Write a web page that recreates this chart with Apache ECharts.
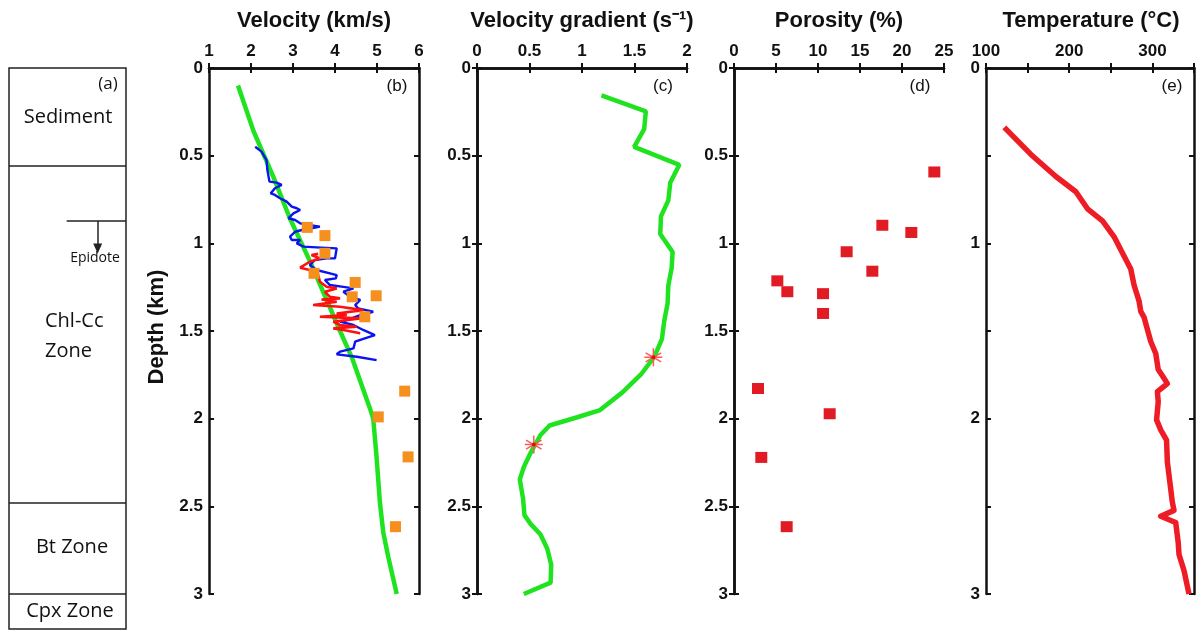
<!DOCTYPE html>
<html><head><meta charset="utf-8">
<script src="https://cdn.jsdelivr.net/npm/echarts@6/dist/echarts.min.js"></script>
<style>html,body{margin:0;padding:0;background:#fff}#c{width:1197px;height:630px}</style>
</head><body><div id="c"></div>
<script>
// ---------- Panel (a): zones ----------
const zoneBoundaries = [0.564, 2.482, 3.0];
const epidoteDepth = 0.873;
const epidoteArrowTip = 1.03;

// ---------- Panel (b): velocity ----------
const modelDepth = [0.10, 0.36, 0.62, 0.86, 1.10, 1.30, 1.50, 1.65, 1.94, 2.00, 2.22, 2.48, 2.65, 2.79, 3.00];
const modelVel   = [1.69, 2.06, 2.53, 2.93, 3.40, 3.76, 4.12, 4.40, 4.83, 4.91, 4.99, 5.07, 5.15, 5.27, 5.47];

const blueVel   = [2.10,2.25,2.37,2.39,2.44,2.61,2.73,2.57,2.47,2.57,2.69,2.85,2.97,3.09,3.17,3.01,2.89,3.05,3.17,3.40,3.64,3.44,3.21,3.05,2.93,2.97,3.17,3.09,3.25,3.56,4.04,4.02,4.00,3.80,3.52,3.40,3.56,3.88,4.04,4.02,3.76,3.88,4.20,4.44,4.20,4.36,4.60,4.48,4.55,4.91,4.60,4.28,4.12,4.44,4.67,4.95,4.71,4.48,4.44,4.12,4.04,4.52,4.99];
const blueDepth = [0.449,0.477,0.525,0.582,0.648,0.654,0.667,0.686,0.715,0.724,0.743,0.762,0.791,0.800,0.810,0.829,0.857,0.867,0.886,0.896,0.905,0.915,0.924,0.934,0.962,0.981,0.981,1.000,1.019,1.023,1.029,1.057,1.086,1.086,1.095,1.124,1.152,1.171,1.181,1.200,1.209,1.238,1.248,1.257,1.276,1.305,1.323,1.352,1.371,1.390,1.409,1.438,1.447,1.466,1.494,1.523,1.542,1.561,1.599,1.618,1.633,1.647,1.666];

const redVel   = [3.60,3.44,3.64,3.40,3.17,3.40,3.60,3.64,3.80,4.04,3.76,3.88,4.12,3.68,4.04,3.48,4.12,4.67,4.04,4.28,3.64,4.60,3.96,4.12,4.52,3.96,4.20,4.60];
const redDepth = [1.060,1.067,1.086,1.105,1.139,1.152,1.181,1.219,1.248,1.257,1.276,1.305,1.314,1.320,1.333,1.352,1.362,1.381,1.400,1.409,1.419,1.428,1.447,1.466,1.476,1.485,1.494,1.513];

const sampleVel   = [3.34,3.76,3.76,3.50,4.48,4.41,4.98,4.71,5.66,5.03,5.74,5.44];
const sampleDepth = [0.909,0.956,1.057,1.171,1.223,1.305,1.299,1.419,1.843,1.99,2.218,2.616];

// ---------- Panel (c): velocity gradient ----------
const gradValue = [1.185,1.608,1.592,1.497,1.927,1.841,1.822,1.752,1.745,1.863,1.854,1.822,1.815,1.783,1.761,1.688,1.561,1.385,1.172,0.955,0.691,0.605,0.510,0.446,0.408,0.439,0.452,0.510,0.605,0.669,0.707,0.701,0.446];
const gradDepth = [0.156,0.247,0.349,0.450,0.552,0.653,0.755,0.846,0.947,1.049,1.140,1.241,1.343,1.444,1.546,1.647,1.748,1.850,1.951,1.992,2.039,2.093,2.195,2.276,2.347,2.458,2.550,2.600,2.661,2.742,2.834,2.935,3.0];
const starGrad  = [1.68, 0.541];
const starDepth = [1.65, 2.148];

// ---------- Panel (d): porosity ----------
const porosity      = [23.85,17.66,21.11,13.41,16.47,5.16,6.35,10.60,10.60,2.86,11.39,3.25,6.27];
const porosityDepth = [0.593,0.897,0.938,1.048,1.159,1.214,1.276,1.287,1.400,1.828,1.972,2.221,2.616];

// ---------- Panel (e): temperature ----------
const temperature = [122,154,184,208,222,240,254,264,274,278,284,286,290,294,298,304,307,312,318,306,307,305,310,317,318,321,324,326,310,328,331,332,338,344];
const tempDepth   = [0.339,0.493,0.619,0.706,0.803,0.872,0.963,1.055,1.147,1.239,1.330,1.388,1.422,1.491,1.560,1.628,1.720,1.755,1.800,1.846,1.904,2.007,2.064,2.122,2.248,2.362,2.477,2.523,2.557,2.592,2.706,2.775,2.867,3.0];

const zip = (xs, ys) => xs.map((x, i) => [x, ys[i]]);

const chart = echarts.init(document.getElementById('c'), null, {renderer: 'canvas'});

const TOP = 68, H = 526, W = 210;
const panels = [
  {left: 209, min: 1, max: 6, interval: 1, xfmt: v => v, yfmt: v => v},
  {left: 477, min: 0, max: 2, interval: 0.5, xfmt: v => v, yfmt: v => v},
  {left: 734, min: 0, max: 25, interval: 5, xfmt: v => v, yfmt: v => v},
  {left: 986, min: 100, max: 350, interval: 50, xfmt: v => (v % 100 === 0 && v < 350) ? v : '', yfmt: v => Number.isInteger(v) ? v : ''}
];

const lblFont = {fontFamily: 'Liberation Sans', fontWeight: 'bold', fontSize: 17, color: '#111'};
const axLine = {show: true, lineStyle: {color: '#111', width: 2.5}};
const tick = {show: true, inside: true, length: 5, lineStyle: {color: '#111', width: 2}};

const grids = [{left: 9, top: 68, width: 117, height: 561, show: true, borderColor: '#222', borderWidth: 1.5, backgroundColor: 'transparent'}];
const xAxes = [{type: 'value', gridIndex: 0, min: 0, max: 1, show: false}];
const yAxes = [{type: 'value', gridIndex: 0, min: 0, max: 3.2, inverse: true, show: false}];

panels.forEach((p, i) => {
  const g = i + 1;
  grids.push({left: p.left, top: TOP, width: W, height: H});
  xAxes.push({type: 'value', gridIndex: g, position: 'top', min: p.min, max: p.max, interval: p.interval,
    axisLine: axLine, axisTick: tick, splitLine: {show: false},
    axisLabel: Object.assign({margin: 8, formatter: p.xfmt}, lblFont)});
  xAxes.push({type: 'value', gridIndex: g, position: 'bottom', min: p.min, max: p.max, interval: p.interval,
    axisLine: axLine, axisTick: tick, splitLine: {show: false}, axisLabel: {show: false}});
  yAxes.push({type: 'value', gridIndex: g, position: 'left', min: 0, max: 3, interval: 0.5, inverse: true,
    axisLine: axLine, axisTick: tick, splitLine: {show: false},
    axisLabel: Object.assign({margin: 6, formatter: p.yfmt}, lblFont)});
  yAxes.push({type: 'value', gridIndex: g, position: 'right', min: 0, max: 3, interval: 0.5, inverse: true,
    axisLine: axLine, axisTick: tick, splitLine: {show: false}, axisLabel: {show: false}});
});

const green = '#1fe31f';
const starPath = 'path://M0,-10L0,10M-8.66,-5L8.66,5M-8.66,5L8.66,-5M-10,0L10,0';

const series = [
  {type: 'line', xAxisIndex: 0, yAxisIndex: 0, data: [[0.5, 0]], showSymbol: false, lineStyle: {opacity: 0},
   markLine: {silent: true, symbol: 'none', label: {show: false}, lineStyle: {color: '#222', width: 1.5, type: 'solid'},
     data: [
       {yAxis: zoneBoundaries[0]}, {yAxis: zoneBoundaries[1]}, {yAxis: zoneBoundaries[2]},
       [{coord: [0.493, epidoteDepth]}, {coord: [1, epidoteDepth]}],
       [{coord: [0.758, epidoteDepth], symbol: 'none'}, {coord: [0.758, epidoteArrowTip], symbol: 'triangle', symbolSize: [9, 10], symbolRotate: 180}]
     ]}},
  {type: 'line', xAxisIndex: 1, yAxisIndex: 1, data: zip(modelVel, modelDepth), showSymbol: false, smooth: false,
   lineStyle: {color: green, width: 4.5}, z: 2},
  {type: 'line', xAxisIndex: 1, yAxisIndex: 1, data: zip(blueVel, blueDepth), showSymbol: false,
   lineStyle: {color: '#0a14f0', width: 2.4}, z: 3},
  {type: 'line', xAxisIndex: 1, yAxisIndex: 1, data: zip(redVel, redDepth), showSymbol: false,
   lineStyle: {color: '#ff1010', width: 2.6}, z: 4},
  {type: 'scatter', xAxisIndex: 1, yAxisIndex: 1, data: zip(sampleVel, sampleDepth), symbol: 'rect', symbolSize: 11,
   itemStyle: {color: '#f5901e', opacity: 1}, z: 5},
  {type: 'line', xAxisIndex: 3, yAxisIndex: 3, data: zip(gradValue, gradDepth), showSymbol: false,
   lineStyle: {color: green, width: 4.5}, z: 2},
  {type: 'scatter', xAxisIndex: 3, yAxisIndex: 3, data: zip(starGrad, starDepth), symbol: starPath, symbolSize: 18,
   itemStyle: {color: 'rgba(0,0,0,0)', borderColor: '#ff5a5a', borderWidth: 1.5, opacity: 1}, z: 5},
  {type: 'scatter', xAxisIndex: 3, yAxisIndex: 3, data: zip(starGrad, starDepth), symbol: 'circle', symbolSize: 4,
   itemStyle: {color: '#e01010', opacity: 1}, z: 6},
  {type: 'scatter', xAxisIndex: 5, yAxisIndex: 5, data: zip(porosity, porosityDepth), symbol: 'rect', symbolSize: [12, 11],
   itemStyle: {color: '#e01b24', opacity: 1}, z: 5},
  {type: 'line', xAxisIndex: 7, yAxisIndex: 7, data: zip(temperature, tempDepth), showSymbol: false,
   lineStyle: {color: '#ee1c25', width: 5.5, join: 'round'}, z: 2}
];

const tfont = 'bold 22px "Liberation Sans"';
const aFont = '"Open Sans"';
const txt = (text, x, y, font, align, extra) => Object.assign({type: 'text', x: x, y: y, silent: true,
  style: {text: text, font: font, fill: '#111', align: align || 'center', verticalAlign: 'middle'}}, extra || {});

const graphic = [
  txt('Velocity (km/s)', 314, 21, tfont),
  txt('Velocity gradient (s\u207B\u00B9)', 582, 21, tfont),
  txt('Porosity (%)', 839, 21, tfont),
  txt('Temperature (\u00B0C)', 1091, 21, tfont),
  txt('Depth (km)', 157, 327, tfont, 'center', {rotation: Math.PI / 2}),
  txt('(b)', 397, 86, '17px "Liberation Sans"'),
  txt('(c)', 663, 86, '17px "Liberation Sans"'),
  txt('(d)', 920, 86, '17px "Liberation Sans"'),
  txt('(e)', 1172, 86, '17px "Liberation Sans"'),
  txt('(a)', 108, 84, '17px ' + aFont),
  txt('Sediment', 68, 117, '20px ' + aFont),
  txt('Epidote', 95, 258, '14px ' + aFont),
  txt('Chl-Cc', 45, 321, '20px ' + aFont, 'left'),
  txt('Zone', 45, 351, '20px ' + aFont, 'left'),
  txt('Bt Zone', 72, 547, '20px ' + aFont),
  txt('Cpx Zone', 70, 611, '20px ' + aFont)
];

chart.setOption({
  animation: false,
  backgroundColor: '#fff',
  grid: grids, xAxis: xAxes, yAxis: yAxes, series: series, graphic: graphic
});
</script></body></html>
